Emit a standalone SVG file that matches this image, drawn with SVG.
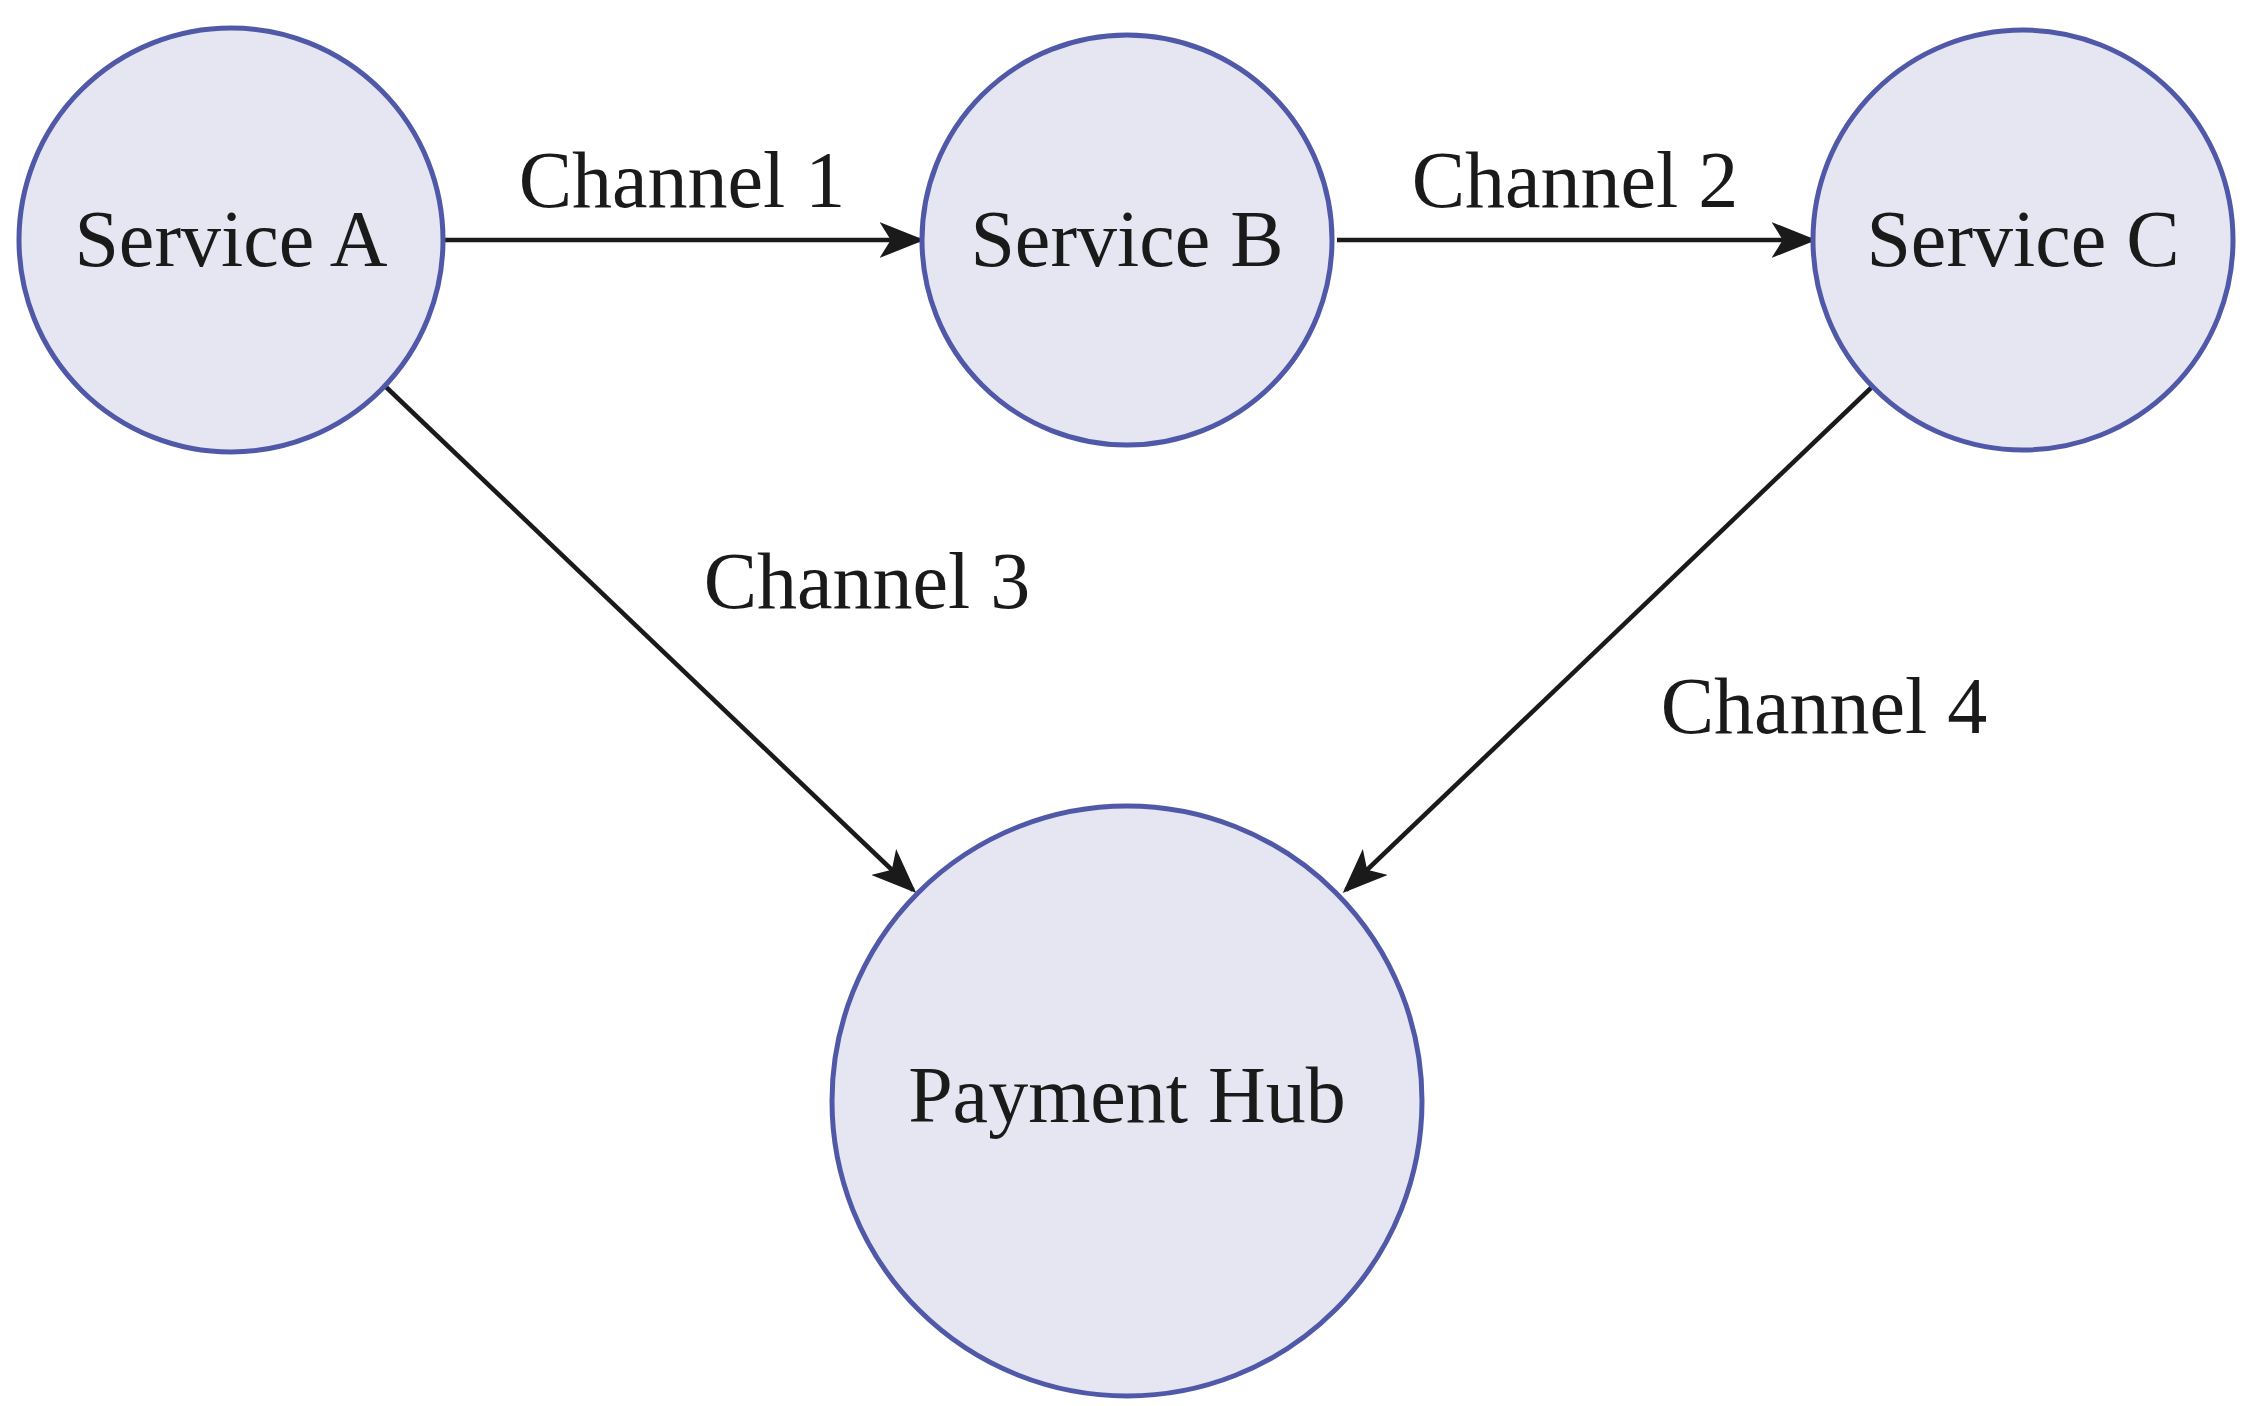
<svg xmlns="http://www.w3.org/2000/svg" width="2253" height="1406" viewBox="0 0 2253 1406">
<style>
.n{fill:#e6e6f2;stroke:#5058a8;stroke-width:5}
.t{font-family:"Liberation Serif",serif;font-size:80px;fill:#1a1a1a;text-anchor:middle}
.e{stroke:#1a1a1a;stroke-width:4.5;fill:none;marker-end:url(#a)}
</style>
<defs><marker id="a" markerWidth="10" markerHeight="8" refX="9" refY="4" orient="auto" markerUnits="strokeWidth" viewBox="0 0 10 8"><path d="M0,0 L10,4 L0,8 L2.5,4 Z" fill="#1a1a1a"/></marker></defs>
<rect width="2253" height="1406" fill="#fff"/>
<g id="edges">
<line class="e" x1="445" y1="240" x2="920" y2="240"/>
<line class="e" x1="1337" y1="240" x2="1812" y2="240"/>
<line class="e" x1="386" y1="387" x2="913" y2="890"/>
<line class="e" x1="1872" y1="387" x2="1346" y2="890"/>
<text class="t" x="682" y="207">Channel 1</text>
<text class="t" x="1575" y="207">Channel 2</text>
<text class="t" x="867" y="608">Channel 3</text>
<text class="t" x="1824" y="733">Channel 4</text>
</g>
<g id="serviceA"><circle class="n" cx="231" cy="240" r="212"/><text class="t" x="231" y="266">Service A</text></g>
<g id="serviceB"><circle class="n" cx="1127" cy="240" r="205"/><text class="t" x="1127" y="266">Service B</text></g>
<g id="serviceC"><circle class="n" cx="2023" cy="240" r="210"/><text class="t" x="2023" y="266">Service C</text></g>
<g id="hub"><circle class="n" cx="1127" cy="1101" r="295"/><text class="t" x="1127" y="1122">Payment Hub</text></g>
</svg>
